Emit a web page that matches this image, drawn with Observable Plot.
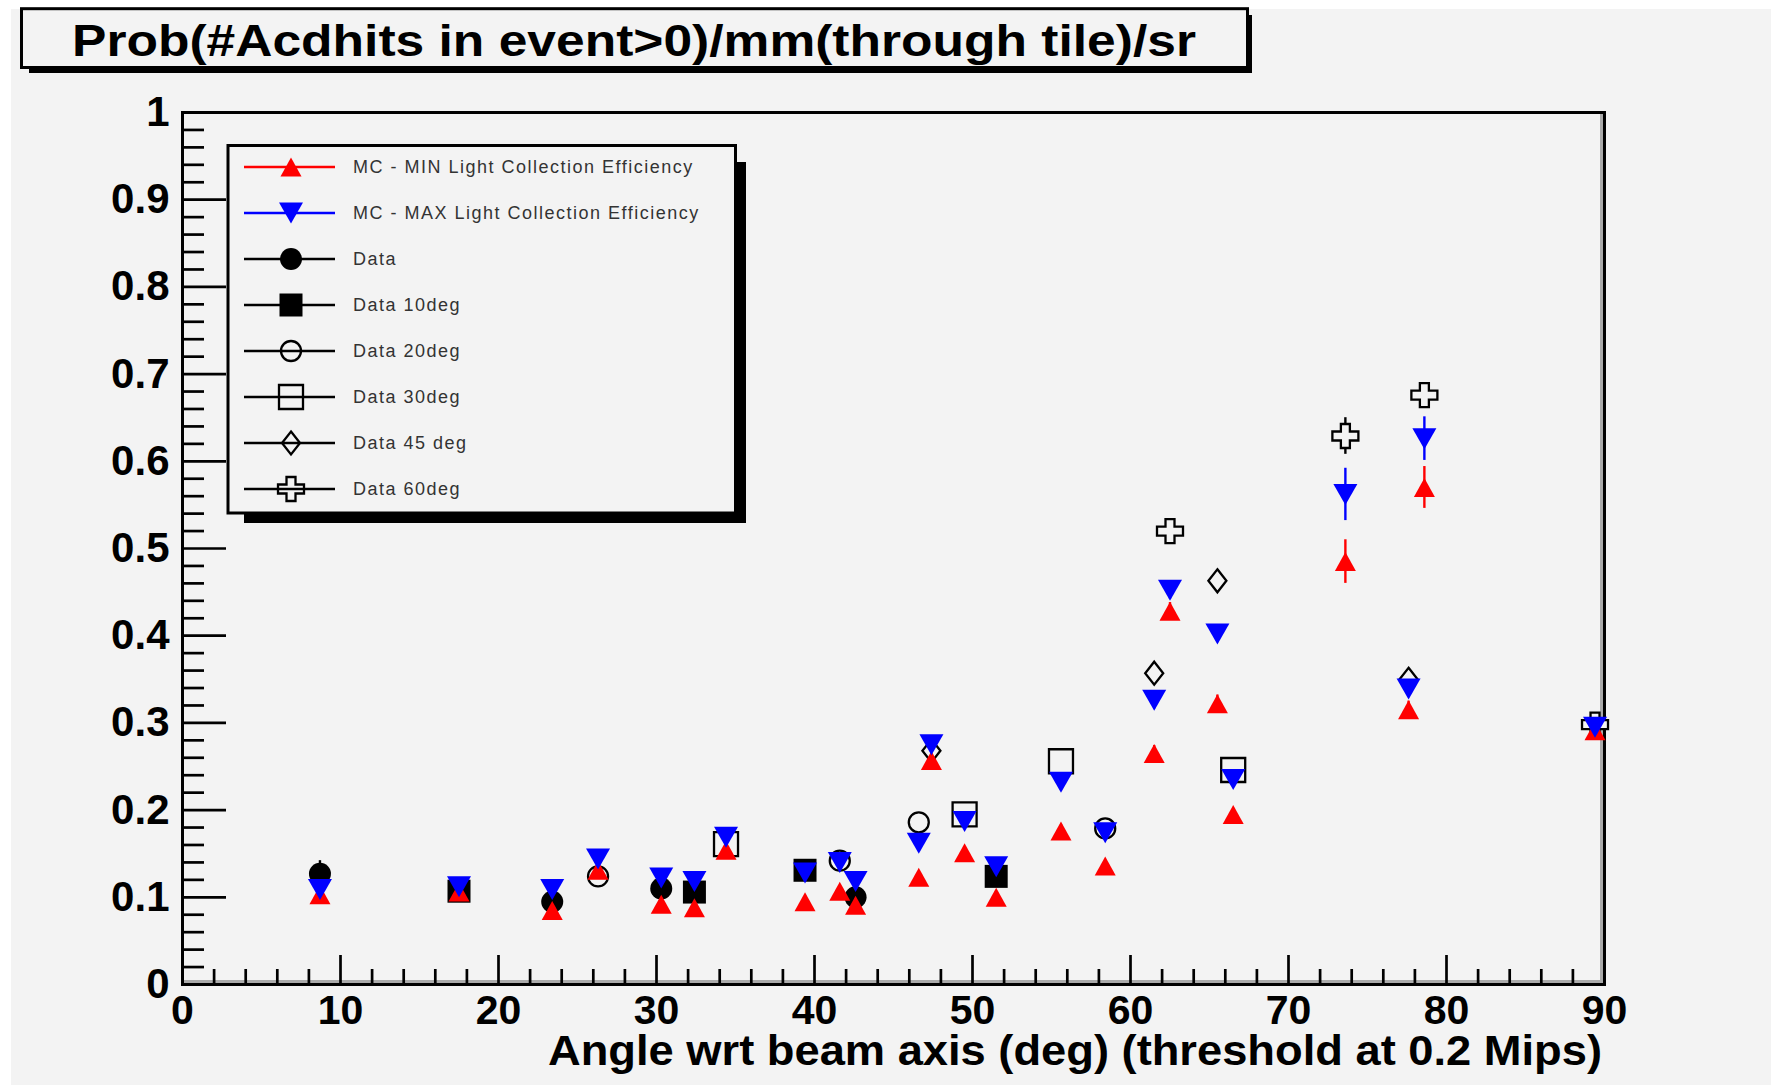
<!DOCTYPE html>
<html>
<head>
<meta charset="utf-8">
<script src="https://cdn.jsdelivr.net/npm/d3@7"></script>
<script src="https://cdn.jsdelivr.net/npm/@observablehq/plot@0.6"></script>
<style>
  html, body { margin: 0; padding: 0; background: #ffffff; }
  #chart { position: absolute; left: 0; top: 0; }
</style>
</head>
<body>
<div id="chart"></div>
<script>
// ---------------- data ----------------
const chartTitle = "Prob(#Acdhits in event>0)/mm(through tile)/sr";
const xTitle = "Angle wrt beam axis (deg) (threshold at 0.2 Mips)";

const xMajorTicks = [0, 10, 20, 30, 40, 50, 60, 70, 80, 90];
const yMajorTicks = [0, 0.1, 0.2, 0.3, 0.4, 0.5, 0.6, 0.7, 0.8, 0.9, 1];
const xMinorTicks = d3.range(0, 91, 2).filter(v => v % 10 !== 0);
const yMinorTicks = d3.range(1, 50).filter(i => i % 5 !== 0).map(i => i / 50);

const mcAngles    = [8.7, 17.5, 23.4, 26.3, 30.3, 32.4, 34.4, 39.4, 41.6, 42.6, 46.6, 47.4, 49.5, 51.5, 55.6, 58.4, 61.5, 62.5, 65.5, 66.5, 73.6, 77.6, 78.6, 89.4];
const mcMinValues = [0.103, 0.106, 0.085, 0.131, 0.092, 0.088, 0.154, 0.095, 0.107, 0.091, 0.123, 0.257, 0.151, 0.100, 0.176, 0.136, 0.265, 0.428, 0.322, 0.195, 0.485, 0.315, 0.570, 0.291];
const mcMinErrors = [0.004, 0.004, 0.004, 0.005, 0.004, 0.004, 0.005, 0.004, 0.005, 0.004, 0.005, 0.008, 0.006, 0.004, 0.007, 0.006, 0.009, 0.010, 0.010, 0.007, 0.025, 0.010, 0.024, 0.009];
const mcMaxValues = [0.109, 0.112, 0.109, 0.144, 0.122, 0.118, 0.169, 0.128, 0.140, 0.118, 0.162, 0.275, 0.187, 0.135, 0.232, 0.174, 0.326, 0.452, 0.402, 0.235, 0.562, 0.339, 0.626, 0.295];
const mcMaxErrors = [0.004, 0.004, 0.004, 0.005, 0.005, 0.005, 0.006, 0.005, 0.005, 0.005, 0.006, 0.009, 0.007, 0.005, 0.008, 0.006, 0.010, 0.010, 0.010, 0.008, 0.030, 0.010, 0.025, 0.009];

const dataAngles   = [8.7, 23.4, 30.3, 42.6];
const dataValues   = [0.127, 0.095, 0.110, 0.100];
const dataErrors   = [0.015, 0.006, 0.006, 0.006];
const data10Angles = [17.5, 32.4, 39.4, 51.5];
const data10Values = [0.107, 0.106, 0.131, 0.124];
const data10Errors = [0.006, 0.006, 0.006, 0.006];
const data20Angles = [26.3, 41.6, 46.6, 58.4];
const data20Values = [0.124, 0.142, 0.186, 0.179];
const data20Errors = [0.006, 0.006, 0.008, 0.008];
const data30Angles = [34.4, 49.5, 55.6, 66.5];
const data30Values = [0.161, 0.195, 0.256, 0.246];
const data30Errors = [0.007, 0.008, 0.009, 0.009];
const data45Angles = [47.4, 61.5, 65.5, 77.6];
const data45Values = [0.268, 0.357, 0.463, 0.350];
const data45Errors = [0.009, 0.010, 0.011, 0.010];
const data60Angles = [62.5, 73.6, 78.6, 89.4];
const data60Values = [0.520, 0.629, 0.676, 0.298];
const data60Errors = [0.010, 0.021, 0.010, 0.008];

const legendLabels = [
  "MC - MIN Light Collection Efficiency",
  "MC - MAX Light Collection Efficiency",
  "Data", "Data 10deg", "Data 20deg", "Data 30deg", "Data 45 deg", "Data 60deg"
];

// ---------------- marker shapes (ROOT-like) ----------------
const R = 11;
function mk(fn) { return { draw(c, size) { const k = Math.sqrt(size / Math.PI) / R; fn(c, k); } }; }
const symTriUp = mk((c, k) => { c.moveTo(0, -9.5 * k); c.lineTo(10.5 * k, 9.5 * k); c.lineTo(-10.5 * k, 9.5 * k); c.closePath(); });
const symTriDown = mk((c, k) => { c.moveTo(0, 10.5 * k); c.lineTo(12 * k, -10.5 * k); c.lineTo(-12 * k, -10.5 * k); c.closePath(); });
const symCircle = mk((c, k) => { c.moveTo(11 * k, 0); c.arc(0, 0, 11 * k, 0, 2 * Math.PI); c.closePath(); });
const symOpenCircle = mk((c, k) => { c.moveTo(10 * k, 0); c.arc(0, 0, 10 * k, 0, 2 * Math.PI); c.closePath(); });
const symSquare = mk((c, k) => { c.rect(-11.5 * k, -11.5 * k, 23 * k, 23 * k); });
const symOpenSquare = mk((c, k) => { c.rect(-12 * k, -12 * k, 24 * k, 24 * k); });
const symDiamond = mk((c, k) => { c.moveTo(0, -11.5 * k); c.lineTo(9 * k, 0); c.lineTo(0, 11.5 * k); c.lineTo(-9 * k, 0); c.closePath(); });
const symCross = mk((c, k) => {
  const a = 4.5 * k, h = 12 * k, w = 13 * k;
  c.moveTo(-a, -h); c.lineTo(a, -h); c.lineTo(a, -a); c.lineTo(w, -a); c.lineTo(w, a);
  c.lineTo(a, a); c.lineTo(a, h); c.lineTo(-a, h); c.lineTo(-a, a); c.lineTo(-w, a);
  c.lineTo(-w, -a); c.lineTo(-a, -a); c.closePath();
});

const BG = "#f3f3f3";
const rows = (xs, ys, es) => xs.map((x, i) => ({ x, y: ys[i], e: es[i] }));

const series = [
  { rows: rows(mcAngles, mcMinValues, mcMinErrors), color: "#ff0000", sym: symTriUp, open: false },
  { rows: rows(mcAngles, mcMaxValues, mcMaxErrors), color: "#0000ff", sym: symTriDown, open: false },
  { rows: rows(dataAngles, dataValues, dataErrors), color: "#000000", sym: symCircle, open: false },
  { rows: rows(data10Angles, data10Values, data10Errors), color: "#000000", sym: symSquare, open: false },
  { rows: rows(data20Angles, data20Values, data20Errors), color: "#000000", sym: symOpenCircle, open: true },
  { rows: rows(data30Angles, data30Values, data30Errors), color: "#000000", sym: symOpenSquare, open: true },
  { rows: rows(data45Angles, data45Values, data45Errors), color: "#000000", sym: symDiamond, open: true },
  { rows: rows(data60Angles, data60Values, data60Errors), color: "#000000", sym: symCross, open: true }
];

function seriesMarks(s) {
  return [
    Plot.ruleX(s.rows, { x: "x", y1: d => d.y - d.e, y2: d => d.y + d.e, stroke: s.color, strokeWidth: 2.4 }),
    Plot.dot(s.rows, {
      x: "x", y: "y", r: R, symbol: s.sym,
      fill: s.open ? BG : s.color,
      stroke: s.open ? s.color : "none",
      strokeWidth: s.open ? 2.3 : 0
    })
  ];
}

// draw order: data series first, then MC MIN, then MC MAX
const drawOrder = [2, 3, 4, 5, 6, 7, 0, 1];

const FONT = "'Liberation Sans', Arial, Helvetica, sans-serif";

const chart = Plot.plot({
  width: 1771,
  height: 1085,
  marginLeft: 182,
  marginRight: 167,
  marginTop: 112,
  marginBottom: 101,
  x: { domain: [0, 90] },
  y: { domain: [0, 1] },
  style: { background: BG, fontFamily: FONT, color: "#000" },
  marks: [
    Plot.ruleX([90], { stroke: "#aaaaaa", strokeWidth: 3, dx: -3 }),
    Plot.ruleY([0], { stroke: "#aaaaaa", strokeWidth: 3, dy: -3 }),
    Plot.frame({ stroke: "#000", strokeWidth: 3 }),
    // inward ticks
    Plot.axisX({ ticks: xMajorTicks, tickSize: -29, tickFormat: () => "", label: null, strokeWidth: 2.7 }),
    Plot.axisX({ ticks: xMinorTicks, tickSize: -15, tickFormat: () => "", label: null, strokeWidth: 2.7 }),
    Plot.axisY({ ticks: yMajorTicks, tickSize: -44, tickFormat: () => "", label: null, strokeWidth: 2.7 }),
    Plot.axisY({ ticks: yMinorTicks, tickSize: -22, tickFormat: () => "", label: null, strokeWidth: 2.7 }),
    // tick labels
    Plot.axisX({ ticks: xMajorTicks, tickSize: 0, tickPadding: 10, tickFormat: d => String(d), label: null, fontSize: 41, fontWeight: "bold" }),
    Plot.axisY({ ticks: yMajorTicks, tickSize: 0, tickPadding: 13, tickFormat: d => String(d), label: null, fontSize: 42, fontWeight: "bold" }),
    ...drawOrder.flatMap(i => seriesMarks(series[i]))
  ]
});

document.getElementById("chart").appendChild(chart);

// ---------------- decorations: background strips, title box, axis title, legend ----------------
const svg = d3.select(chart);
svg.insert("rect", ":first-child").attr("x", 0).attr("y", 0).attr("width", 11).attr("height", 1085).attr("fill", "#fff");
svg.insert("rect", ":first-child").attr("x", 0).attr("y", 0).attr("width", 1771).attr("height", 9).attr("fill", "#fff");

const deco = svg.append("g").attr("font-family", FONT).attr("text-anchor", "start");

// title box with shadow
deco.append("rect").attr("x", 1247).attr("y", 15).attr("width", 5).attr("height", 58).attr("fill", "#000");
deco.append("rect").attr("x", 29).attr("y", 67).attr("width", 1223).attr("height", 6).attr("fill", "#000");
deco.append("rect").attr("x", 21.5).attr("y", 8.7).attr("width", 1226).attr("height", 58.8)
  .attr("fill", BG).attr("stroke", "#000").attr("stroke-width", 3);
deco.append("text").attr("x", 72).attr("y", 56).attr("text-anchor", "start")
  .attr("font-size", 44).attr("font-weight", "bold").attr("fill", "#000")
  .attr("textLength", 1124).attr("lengthAdjust", "spacingAndGlyphs")
  .text(chartTitle);

// x axis title
deco.append("text").attr("x", 548).attr("y", 1065).attr("text-anchor", "start")
  .attr("font-size", 42).attr("font-weight", "bold").attr("fill", "#000")
  .attr("textLength", 1054).attr("lengthAdjust", "spacingAndGlyphs")
  .text(xTitle);

// legend box with shadow
const lg = deco.append("g");
lg.append("rect").attr("x", 735.5).attr("y", 162).attr("width", 10.5).attr("height", 361).attr("fill", "#000");
lg.append("rect").attr("x", 244).attr("y", 513).attr("width", 502).attr("height", 10).attr("fill", "#000");
lg.append("rect").attr("x", 228).attr("y", 145.5).attr("width", 507.5).attr("height", 367.5)
  .attr("fill", BG).attr("stroke", "#000").attr("stroke-width", 3);

legendLabels.forEach((label, i) => {
  const s = series[i];
  const y = 167 + i * 46;
  lg.append("line").attr("x1", 244).attr("x2", 335).attr("y1", y).attr("y2", y)
    .attr("stroke", s.color).attr("stroke-width", 2.4);
  lg.append("path")
    .attr("transform", `translate(291,${y})`)
    .attr("d", d3.symbol().type(s.sym).size(Math.PI * R * R)())
    .attr("fill", s.open ? "none" : s.color)
    .attr("stroke", s.open ? s.color : "none")
    .attr("stroke-width", s.open ? 2.3 : 0);
  lg.append("text").attr("x", 353).attr("y", y).attr("dy", "0.35em").attr("text-anchor", "start")
    .attr("font-size", 18).attr("letter-spacing", 1.5).attr("fill", "#333")
    .text(label);
});
</script>
</body>
</html>
